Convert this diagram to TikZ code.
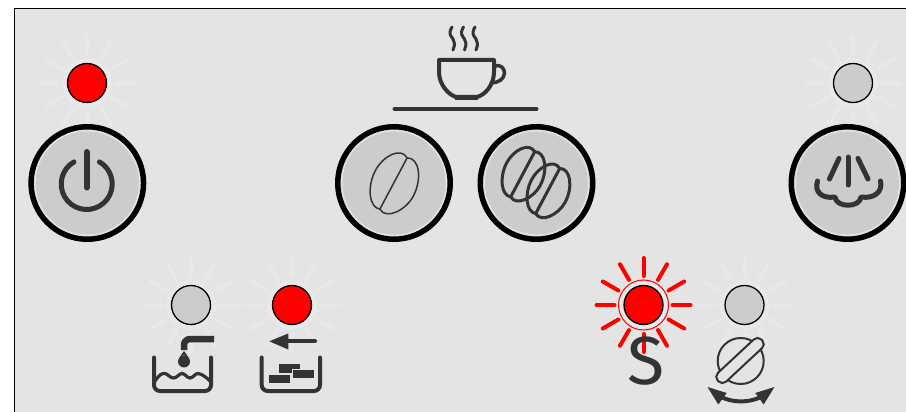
\documentclass[tikz,border=0pt]{standalone}
\usepackage{xcolor}
\usepackage{fontspec}
\usepackage{tikz}
\usetikzlibrary{calc}
\newfontfamily\iconfont{Fira Sans}
\definecolor{panelgray}{RGB}{228,228,228}
\definecolor{halogray}{RGB}{232,232,232}
\definecolor{ledgray}{RGB}{204,204,204}
\definecolor{ringgray}{RGB}{226,226,226}
\definecolor{icondark}{RGB}{51,51,51}
\definecolor{ledred}{RGB}{255,0,0}
\newcommand{\ledrays}[2]{%
  \foreach \a in {0,30,...,330}
    \draw[ray, draw=#2] (#1.center) ++(\a:29) -- ++(\a:18);
}

\begin{document}
\begin{tikzpicture}[
      x=1pt, y=-1pt,
      halo/.style={circle, fill=halogray, inner sep=0pt, minimum size=50pt},
      led/.style={circle, draw=black, line width=1.3pt, inner sep=0pt, minimum size=39pt},
      button/.style={circle, draw=black, line width=5.5pt, fill=ringgray, inner sep=0pt, minimum size=112.5pt},
      buttonface/.style={circle, fill=ledgray, inner sep=0pt, minimum size=103pt},
      ray/.style={line width=4pt, line cap=round},
      icon/.style={draw=icondark, line width=5pt, line cap=round, line join=round},
      thinicon/.style={draw=icondark, line width=2pt, line cap=round, line join=round},
      brick/.style={fill=icondark, draw=panelgray, line width=0.2pt},
      pics/bean/.style={code={
        \draw[pic actions] (0,-29) .. controls (-8,-36) and (-17,-20) .. (-17,-3)
          .. controls (-17,15) and (-8,33) .. (0,29)
          .. controls (8,36) and (18,18) .. (18,2)
          .. controls (18,-18) and (8,-35) .. (0,-29) -- cycle;
        \draw[pic actions] (0,-29) -- (0,29);
      }}
    ]
      \useasboundingbox (0,0) rectangle (906,412);
      \fill[panelgray] (14.5,8.5) rectangle (906,412);
      \draw[line width=1pt] (14.5,412) -- (14.5,8.5) -- (906,8.5);

      % leds
      \node[halo] (powerhalo) at (87,83) {};
      \node[halo] (steamhalo) at (853,83) {};
      \node[halo] (waterhalo) at (191,305) {};
      \node[halo] (groundshalo) at (292,305) {};
      \node[halo, draw=ledred, line width=1pt] (stophalo) at (643.5,305) {};
      \node[halo] (grindhalo) at (744.5,305) {};
      \ledrays{powerhalo}{halogray}
      \ledrays{steamhalo}{halogray}
      \ledrays{waterhalo}{halogray}
      \ledrays{groundshalo}{halogray}
      \ledrays{stophalo}{ledred}
      \ledrays{grindhalo}{halogray}
      \node[led, fill=ledred] (powerled) at (powerhalo) {};
      \node[led, fill=ledgray] (steamled) at (steamhalo) {};
      \node[led, fill=ledgray] (waterled) at (waterhalo) {};
      \node[led, fill=ledred] (groundsled) at (groundshalo) {};
      \node[led, fill=ledred] (stopled) at (stophalo) {};
      \node[led, fill=ledgray] (grindled) at (grindhalo) {};

      % buttons
      \foreach \name/\px in {power/87.3,single/394,double/536.5,steam/847.5} {
        \node[button] (\name) at (\px,183) {};
        \node[buttonface] (\name face) at (\px,183) {};
      }

      % power icon
      \draw[icon] (86.7,184) ++(-120:25.5) arc[start angle=-120, end angle=-420, radius=25.5];
      \draw[icon, line width=6pt] (86.7,152) -- (86.7,187.5);

      % cup
      \draw[icon, line width=4pt] (439,60) -- (494,60) -- (494,72)
        .. controls (494,85) and (485,95) .. (477,97) -- (456,97)
        .. controls (449,95) and (439,85) .. (439,72) -- cycle;
      \draw[icon, line width=3.5pt] (495,66) .. controls (500,64) and (504.5,68) .. (504.5,73)
        .. controls (504.5,79) and (498,83) .. (491,83);
      \draw[icon, line width=4.5pt, line cap=butt] (455,97.5) -- (478,97.5);
      \foreach \px in {452,463.5,475}
        \draw[icon, line width=3pt] (\px,27) .. controls (\px-4,34) and (\px-1,36) .. (\px+1,39)
          .. controls (\px+3,42) and (\px+3,45) .. (\px+1,50);
      \draw[icon, line width=4pt] (394.5,109) -- (536.5,109);

      % beans
      \path[thinicon, line width=1.5pt] pic[rotate=-28, xscale=1.3] at (393.5,183.5) {bean};
      \path[thinicon, line width=3pt, fill=ledgray] pic[rotate=-28, xscale=1.15, yscale=.88] at (547.7,191) {bean};
      \path[thinicon, line width=3pt, fill=ledgray] pic[rotate=-28, xscale=1.15, yscale=.88] at (522.7,174.3) {bean};

      % steam
      \draw[icon] (848,157) -- (848,185);
      \draw[icon] (839,158.5) -- (829.5,179);
      \draw[icon] (858,158.5) -- (868,179);
      \draw[icon] (817.5,181) .. controls (814,192) and (822,199) .. (835,197)
        .. controls (836,208) and (860,208) .. (861,197)
        .. controls (874,199) and (883,192) .. (880.5,181);

      % water tank
      \draw[icon, line width=4pt, rounded corners=6pt] (154,357.5) -- (154,391) -- (211,391) -- (211,357.5);
      \draw[icon, line width=3.2pt] (155,381) .. controls (159,375) and (162,373) .. (165,373.5)
        .. controls (168,374) and (170,378) .. (173.5,378)
        .. controls (177,378) and (179,373.5) .. (182,373.5)
        .. controls (185,373.5) and (187,378) .. (190,378)
        .. controls (193,378) and (195,373.5) .. (198,373.5)
        .. controls (202,374) and (206,377) .. (210,381);
      \draw[icon, line width=6.5pt, line cap=butt, rounded corners=6pt] (214,339) -- (184,339) -- (184,350);
      \fill[icondark] (184,351) -- (189,358) arc[start angle=35, end angle=145, radius=6.1, y radius=-6.1] -- cycle;
      \fill[icondark] (184,361.5) circle[radius=6];

      % grounds box
      \draw[icon, line width=4pt] (315,341.3) -- (285,341.3);
      \fill[icondark] (269.3,341.3) -- (288.3,333.5) -- (288.3,349.5) -- cycle;
      \draw[icon, line width=4pt, rounded corners=6pt] (261.7,357.5) -- (261.7,391) -- (320,391) -- (320,357.5);
      \path[brick] (278.3,363.3) rectangle (300,372.7);
      \path[brick] (291.7,369) rectangle (314,377.7);
      \path[brick] (268.3,374) rectangle (290,382.7);

      % S and grinder
      \node[text=icondark, inner sep=0pt, font=\iconfont\fontsize{68}{68}\selectfont] (stoplabel) at (646,361.5) {S};
      \draw[thinicon] (740.7,361) circle[radius=23];
      \node[draw=icondark, line width=2pt, fill=panelgray, rounded corners=5.5pt, rotate=43,
            minimum width=60pt, minimum height=12pt, inner sep=0pt] (grindslot) at (740,360.5) {};
      \draw[icon, line width=4pt, line cap=butt] (718,395) .. controls (730,403.5) and (752,403.5) .. (764,395);
      \fill[icondark] (707.5,387) -- (726.7,393) -- (718.3,404.5) -- cycle;
      \fill[icondark] (774.5,387) -- (755.3,393) -- (763.7,404.5) -- cycle;
    \end{tikzpicture}
\end{document}
